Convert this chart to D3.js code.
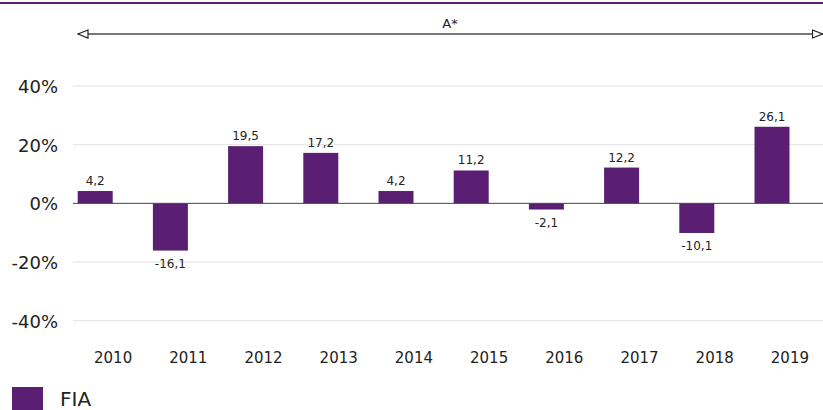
<!DOCTYPE html>
<html>
<head>
<meta charset="utf-8">
<script src="https://cdn.jsdelivr.net/npm/d3@7"></script>
<style>
  body { margin: 0; background: #fff; }
  text { font-family: "DejaVu Sans", Verdana, sans-serif; fill: #222; }
</style>
</head>
<body>
<div id="chart"></div>
<script>
// chart data
var years = ["2010", "2011", "2012", "2013", "2014", "2015", "2016", "2017", "2018", "2019"];
var fiaValues = [4.2, -16.1, 19.5, 17.2, 4.2, 11.2, -2.1, 12.2, -10.1, 26.1];
var yTicks = [-40, -20, 0, 20, 40];
var seriesName = "FIA";
var periodLabel = "A*";

var svgWidth = 823;
var svgHeight = 410;
var barColor = "#5a1f72";

var svg = d3.select("#chart")
    .append("svg")
    .attr("width", svgWidth)
    .attr("height", svgHeight);

// scales
var xScale = d3.scaleBand()
    .domain(years)
    .range([75.5, 827.5]);

var yScale = d3.scaleLinear()
    .domain([-40, 40])
    .range([320.7, 86]);

// top rule
svg.append("line")
    .attr("x1", 0).attr("x2", svgWidth)
    .attr("y1", 3).attr("y2", 3)
    .attr("stroke", barColor)
    .attr("stroke-width", 2);

// period arrow (open triangle heads)
var defs = svg.append("defs");
defs.append("marker")
    .attr("id", "arrowEnd")
    .attr("viewBox", "0 0 12 10")
    .attr("refX", 11).attr("refY", 5)
    .attr("markerWidth", 12).attr("markerHeight", 10)
    .attr("markerUnits", "userSpaceOnUse")
    .attr("orient", "auto")
    .append("path")
    .attr("d", "M1,1 L11,5 L1,9 Z")
    .attr("fill", "#fff")
    .attr("stroke", "#222")
    .attr("stroke-width", 1.2);
defs.append("marker")
    .attr("id", "arrowStart")
    .attr("viewBox", "0 0 12 10")
    .attr("refX", 1).attr("refY", 5)
    .attr("markerWidth", 12).attr("markerHeight", 10)
    .attr("markerUnits", "userSpaceOnUse")
    .attr("orient", "auto")
    .append("path")
    .attr("d", "M11,1 L1,5 L11,9 Z")
    .attr("fill", "#fff")
    .attr("stroke", "#222")
    .attr("stroke-width", 1.2);

svg.append("line")
    .attr("x1", 78).attr("x2", 822.5)
    .attr("y1", 34).attr("y2", 34)
    .attr("stroke", "#777")
    .attr("stroke-width", 2)
    .attr("marker-start", "url(#arrowStart)")
    .attr("marker-end", "url(#arrowEnd)");

svg.append("text")
    .attr("x", 450)
    .attr("y", 28)
    .attr("text-anchor", "middle")
    .style("font-size", "13px")
    .text(periodLabel);

// gridlines
svg.append("g")
    .selectAll("line")
    .data(yTicks.filter(d => d !== 0))
    .enter()
    .append("line")
    .attr("x1", 73).attr("x2", svgWidth)
    .attr("y1", d => yScale(d)).attr("y2", d => yScale(d))
    .attr("stroke", "#e2e2e2")
    .attr("stroke-width", 1);

// y tick labels
svg.append("g")
    .selectAll("text")
    .data(yTicks)
    .enter()
    .append("text")
    .attr("x", 58)
    .attr("y", d => yScale(d) + 7)
    .attr("text-anchor", "end")
    .style("font-size", "18px")
    .text(d => d + "%");

// bars
var barWidth = 35;
svg.append("g")
    .selectAll("rect")
    .data(fiaValues)
    .enter()
    .append("rect")
    .attr("x", (d, i) => xScale(years[i]) + 2.2)
    .attr("y", d => yScale(Math.max(0, d)))
    .attr("width", barWidth)
    .attr("height", d => Math.abs(yScale(d) - yScale(0)))
    .attr("fill", barColor);

// zero line
svg.append("line")
    .attr("x1", 73).attr("x2", svgWidth)
    .attr("y1", yScale(0)).attr("y2", yScale(0))
    .attr("stroke", "#444")
    .attr("stroke-width", 1);

// value labels
svg.append("g")
    .selectAll("text")
    .data(fiaValues)
    .enter()
    .append("text")
    .attr("x", (d, i) => xScale(years[i]) + 2.2 + barWidth / 2)
    .attr("y", d => d >= 0 ? yScale(d) - 6 : yScale(d) + 17)
    .attr("text-anchor", "middle")
    .style("font-size", "12px")
    .text(d => String(d.toFixed(1)).replace(".", ","));

// x labels
svg.append("g")
    .selectAll("text")
    .data(years)
    .enter()
    .append("text")
    .attr("x", d => xScale(d) + xScale.bandwidth() / 2)
    .attr("y", 363)
    .attr("text-anchor", "middle")
    .style("font-size", "15px")
    .text(d => d);

// legend
svg.append("rect")
    .attr("x", 12).attr("y", 387)
    .attr("width", 31).attr("height", 23)
    .attr("fill", barColor);

svg.append("text")
    .attr("x", 60)
    .attr("y", 406)
    .style("font-size", "20px")
    .text(seriesName);
</script>
</body>
</html>
